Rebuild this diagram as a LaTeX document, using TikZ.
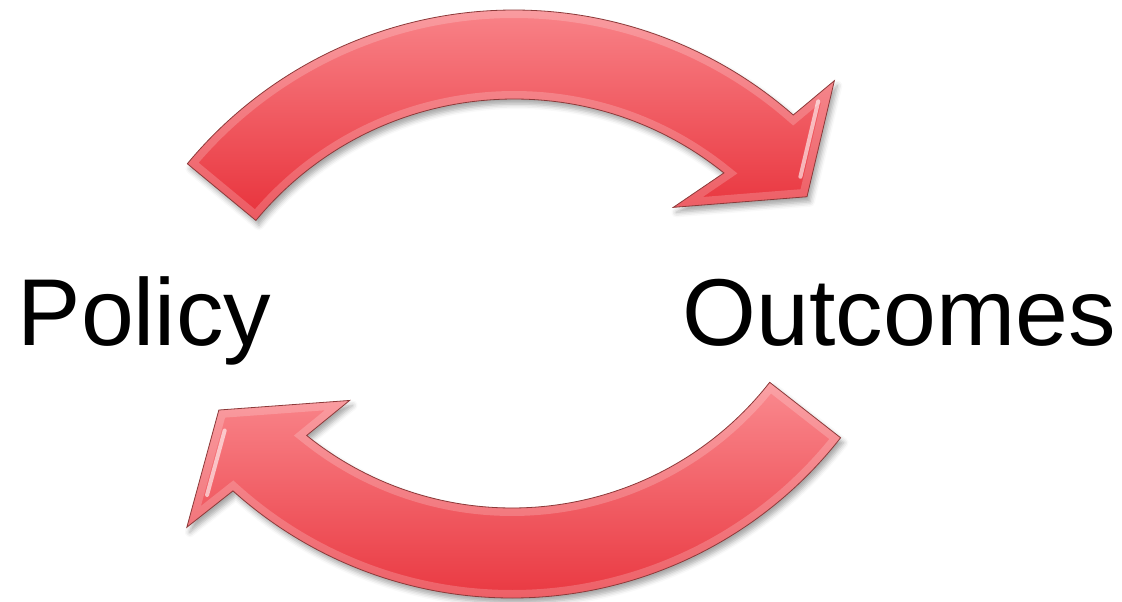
\documentclass[tikz,border=0pt]{standalone}
\usepackage{fontspec}
\setmainfont{Liberation Sans}
\usetikzlibrary{calc,shadows.blur}
\definecolor{arrtop}{HTML}{FA8A8F}
\definecolor{arrbot}{HTML}{E8323B}
\definecolor{arredge}{HTML}{8C3A3A}
\tikzset{
  arrowbody/.style={top color=arrtop, bottom color=arrbot,
    blur shadow={shadow xshift=3pt, shadow yshift=-5pt, shadow blur radius=5pt, shadow opacity=35}},
  bevelband/.style={draw=white, line width=16pt, opacity=0.2},
  arrowoutline/.style={draw=arredge, line width=0.8pt, line join=miter},
  gloss/.style={draw=white, line width=4pt, line cap=round, opacity=0.6},
  label/.style={font=\fontsize{95}{100}\selectfont, anchor=base west, inner sep=0pt, text=black}
}
\begin{document}
\begin{tikzpicture}[x=1pt,y=1pt]
\useasboundingbox (0,0) rectangle (1122,602);
% top arrow (centre of curvature at 514,168)
\begin{scope}[shift={(514,168)}]
  \def\shape{(140.4:424) arc[start angle=140.4, end angle=48.8, radius=424] -- (47.8:477) -- (39:377) -- (54.9:277) -- (51.2:335) arc[start angle=51.2, end angle=140.4, radius=335] -- cycle}
  \path[arrowbody] \shape;
  \begin{scope}
    \clip \shape;
    \path[bevelband] \shape;
  \end{scope}
  \path[arrowoutline] \shape;
  \coordinate (tB) at (47.8:477);
  \coordinate (tP) at (39:377);
  \draw[gloss] ($(tB)!0.2!(tP)!11pt!-90:(tP)$) -- ($(tB)!0.85!(tP)!11pt!-90:(tP)$);
\end{scope}
% bottom arrow (centre of curvature at 512,421)
\begin{scope}[shift={(512,421)}, rotate=180]
  \def\shape{(142:417) arc[start angle=142, end angle=48, radius=417] -- (46.8:475) -- (38:372) -- (53.5:273) -- (51.1:327) arc[start angle=51.1, end angle=142, radius=327] -- cycle}
  \path[arrowbody] \shape;
  \begin{scope}
    \clip \shape;
    \path[bevelband] \shape;
  \end{scope}
  \path[arrowoutline] \shape;
  \coordinate (bB) at (46.8:475);
  \coordinate (bP) at (38:372);
  \draw[gloss] ($(bB)!0.3!(bP)!11pt!-90:(bP)$) -- ($(bB)!0.85!(bP)!11pt!-90:(bP)$);
\end{scope}
\node[label] (policy) at (17.5,256) {Policy};
\node[label] (outcomes) at (682.4,256) {Outcomes};
\end{tikzpicture}
\end{document}
